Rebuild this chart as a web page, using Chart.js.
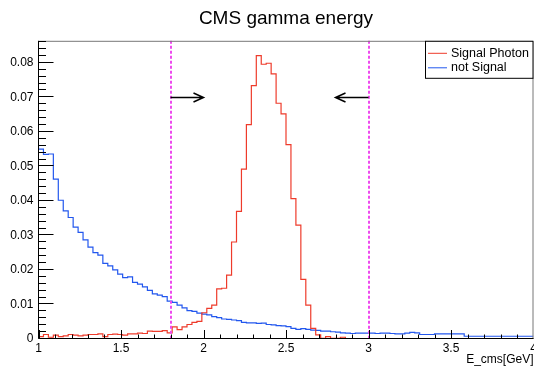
<!DOCTYPE html>
<html>
<head>
<meta charset="utf-8">
<script src="https://cdn.jsdelivr.net/npm/chart.js@4.4.0/dist/chart.umd.min.js"></script>
<style>
  html, body { margin: 0; padding: 0; background: #fff; }
  #wrap { position: relative; width: 534px; height: 369px; }
</style>
</head>
<body>
<div id="wrap"><canvas id="graficoEnergia"></canvas></div>
<script>
// E_cms histogram: 100 bins between 1 and 4 GeV
const xMin = 1, xMax = 4, nBins = 100;
const yMax = 0.0864;

const signalPhoton = [
  0.0007, 0.0007, 0.0013, 0.0005, 0.0011, 0.0007, 0.0009, 0.0013, 0.0011, 0.0009,
  0.0011, 0.0013, 0.0013, 0.0015, 0.0007, 0.0013, 0.0014, 0.0013, 0.0011, 0.0015,
  0.0015, 0.0017, 0.0016, 0.0023, 0.0022, 0.0022, 0.0024, 0.0018, 0.0035, 0.0027,
  0.0035, 0.0042, 0.0048, 0.0051, 0.0076, 0.0089, 0.0098, 0.0145, 0.0147, 0.0185,
  0.0281, 0.0370, 0.0492, 0.0621, 0.0734, 0.0821, 0.0796, 0.0799, 0.0768, 0.0683,
  0.0652, 0.0563, 0.0407, 0.0330, 0.0173, 0.0098, 0.0031, 0.0012, 0.0002, 0.0007,
  0.0002, 0.0002, 0.0005, 0, 0, 0, 0, 0, 0, 0,
  0, 0, 0, 0, 0, 0, 0, 0, 0, 0,
  0, 0, 0, 0, 0, 0, 0, 0, 0, 0,
  0, 0, 0, 0, 0, 0, 0, 0, 0, 0
];

const notSignal = [
  0.0563, 0.0550, 0.0535, 0.0536, 0.0463, 0.0402, 0.0371, 0.0352, 0.0324, 0.0309,
  0.0287, 0.0266, 0.0250, 0.0243, 0.0219, 0.0212, 0.0200, 0.0188, 0.0178, 0.0180,
  0.0164, 0.0159, 0.0151, 0.0141, 0.0131, 0.0127, 0.0123, 0.0110, 0.0106, 0.0098,
  0.0090, 0.0082, 0.0080, 0.0075, 0.0072, 0.0070, 0.0065, 0.0062, 0.0058, 0.0057,
  0.0055, 0.0053, 0.0048, 0.0047, 0.0047, 0.0045, 0.0046, 0.0042, 0.0041, 0.0039,
  0.0038, 0.0036, 0.0031, 0.0028, 0.0030, 0.0028, 0.0026, 0.0025, 0.0023, 0.0023,
  0.0021, 0.0020, 0.0018, 0.0017, 0.0016, 0.0017, 0.0017, 0.0017, 0.0017, 0.0016,
  0.0017, 0.0017, 0.0016, 0.0015, 0.0015, 0.0017, 0.0019, 0.0018, 0.0013, 0.0013,
  0.0013, 0.0015, 0.0015, 0.0015, 0.0015, 0.0015, 0.0015, 0.0008, 0.0008, 0.0008,
  0.0008, 0.0008, 0.0008, 0.0008, 0.0008, 0.0008, 0.0008, 0.0008, 0.0008, 0.0008
];

// selection cuts and arrows
const cutValues = [1.8, 3.0];
const arrowTips = [2.0, 2.8];
const arrowLevel = 0.07;

const seriesNames = ['Signal Photon', 'not Signal'];
const seriesColors = ['#ee3b2b', '#2257ee'];

// bin contents -> step points at the low edge of each bin
function toSteps(values) {
  const w = (xMax - xMin) / nBins;
  const pts = values.map((v, i) => ({ x: xMin + i * w, y: v }));
  pts.push({ x: xMax, y: values[values.length - 1] });
  return pts;
}

const fmt = v => String(+Number(v).toFixed(3));

// ROOT-like frame, ticks inside, cut lines, arrows and legend
const rootFrame = {
  id: 'rootFrame',
  afterDraw(chart) {
    const { ctx, chartArea: a, scales: { x, y } } = chart;
    ctx.save();

    // cut lines
    ctx.strokeStyle = '#ee4bee';
    ctx.lineWidth = 2;
    ctx.setLineDash([3, 2]);
    cutValues.forEach(c => {
      const px = Math.round(x.getPixelForValue(c));
      ctx.beginPath();
      ctx.moveTo(px, a.top);
      ctx.lineTo(px, a.bottom);
      ctx.stroke();
    });
    ctx.setLineDash([]);

    // arrows
    ctx.strokeStyle = '#000';
    ctx.lineWidth = 1.5;
    const ay = Math.round(y.getPixelForValue(arrowLevel)) + 0.5;
    cutValues.forEach((c, i) => {
      const x0 = x.getPixelForValue(c);
      const x1 = x.getPixelForValue(arrowTips[i]);
      const dir = Math.sign(x1 - x0);
      ctx.beginPath();
      ctx.moveTo(x0, ay);
      ctx.lineTo(x1, ay);
      ctx.moveTo(x1 - dir * 10, ay - 4.5);
      ctx.lineTo(x1, ay);
      ctx.lineTo(x1 - dir * 10, ay + 4.5);
      ctx.stroke();
    });

    // frame
    ctx.lineWidth = 1;
    ctx.strokeStyle = '#777';
    ctx.beginPath();
    ctx.moveTo(a.left, a.top + 0.5);
    ctx.lineTo(a.right - 0.5, a.top + 0.5);
    ctx.lineTo(a.right - 0.5, a.bottom);
    ctx.stroke();
    ctx.strokeStyle = '#000';
    ctx.beginPath();
    ctx.moveTo(a.left, a.top);
    ctx.lineTo(a.left, a.bottom - 0.5);
    ctx.lineTo(a.right, a.bottom - 0.5);
    ctx.stroke();

    // y ticks: major every 0.01, minor every 0.002
    ctx.strokeStyle = '#000';
    ctx.beginPath();
    for (let k = 0; k * 0.002 <= yMax; k++) {
      const py = Math.round(y.getPixelForValue(k * 0.002)) - 0.5;
      const len = k % 5 === 0 ? 15 : 7.5;
      ctx.moveTo(a.left, py);
      ctx.lineTo(a.left + len, py);
    }
    // x ticks: major every 0.5, minor every 0.1
    for (let k = 0; k <= 30; k++) {
      const px = Math.round(x.getPixelForValue(xMin + k * 0.1)) + 0.5;
      const len = k % 5 === 0 ? 9 : 4.5;
      ctx.moveTo(px, a.bottom);
      ctx.lineTo(px, a.bottom - len);
    }
    ctx.stroke();

    // legend
    const lx = 425, ly = a.top, lw = a.right - lx, lh = 37;
    ctx.fillStyle = '#fff';
    ctx.fillRect(lx, ly, lw, lh);
    ctx.strokeStyle = '#000';
    ctx.strokeRect(lx + 0.5, ly + 0.5, lw - 1, lh);
    ctx.font = '12.5px "Liberation Sans", Arial, sans-serif';
    ctx.textBaseline = 'middle';
    ctx.textAlign = 'left';
    chart.data.datasets.forEach((ds, i) => {
      const yy = ly + 12.5 + i * 14.5;
      ctx.strokeStyle = ds.borderColor;
      ctx.beginPath();
      ctx.moveTo(lx + 3, yy);
      ctx.lineTo(lx + 22, yy);
      ctx.stroke();
      ctx.fillStyle = '#000';
      ctx.fillText(ds.label, lx + 26, yy);
    });

    ctx.restore();
  }
};

const axisFont = { family: 'Liberation Sans', size: 12 };

new Chart(document.getElementById('graficoEnergia'), {
  type: 'line',
  data: {
    datasets: [
      {
        label: seriesNames[0],
        data: toSteps(signalPhoton),
        borderColor: seriesColors[0],
        borderWidth: 1.2,
        stepped: 'after',
        pointRadius: 0,
        fill: false
      },
      {
        label: seriesNames[1],
        data: toSteps(notSignal),
        borderColor: seriesColors[1],
        borderWidth: 1.2,
        stepped: 'after',
        pointRadius: 0,
        fill: false
      }
    ]
  },
  options: {
    responsive: true,
    maintainAspectRatio: false,
    animation: false,
    layout: { padding: { top: 0, left: 0, right: 0.5, bottom: 0 } },
    plugins: {
      legend: { display: false },
      tooltip: { enabled: false },
      title: {
        display: true,
        text: 'CMS gamma energy',
        fullSize: false,
        color: '#000',
        font: { family: 'Liberation Sans', size: 19, weight: 'normal' },
        padding: { top: 7, bottom: 11 }
      }
    },
    scales: {
      x: {
        type: 'linear',
        min: xMin,
        max: xMax,
        grid: { display: false, drawTicks: false },
        border: { display: false },
        ticks: {
          stepSize: 0.5,
          padding: 2,
          maxRotation: 0,
          autoSkip: false,
          color: '#000',
          font: axisFont,
          callback: fmt
        },
        title: {
          display: true,
          text: 'E_cms[GeV]',
          align: 'end',
          color: '#000',
          font: axisFont,
          padding: { top: 0, bottom: 2 }
        },
        afterFit(scale) {
          scale.height = 30;
          scale.paddingLeft = 0;
          scale.paddingRight = 0;
        }
      },
      y: {
        type: 'linear',
        min: 0,
        max: yMax,
        grid: { display: false, drawTicks: false },
        border: { display: false },
        ticks: {
          stepSize: 0.01,
          includeBounds: false,
          padding: 5,
          color: '#000',
          font: axisFont,
          callback: fmt
        },
        afterFit(scale) {
          scale.width = 38.5;
          scale.paddingTop = 0;
          scale.paddingBottom = 0;
        }
      }
    }
  },
  plugins: [rootFrame]
});
</script>
</body>
</html>
